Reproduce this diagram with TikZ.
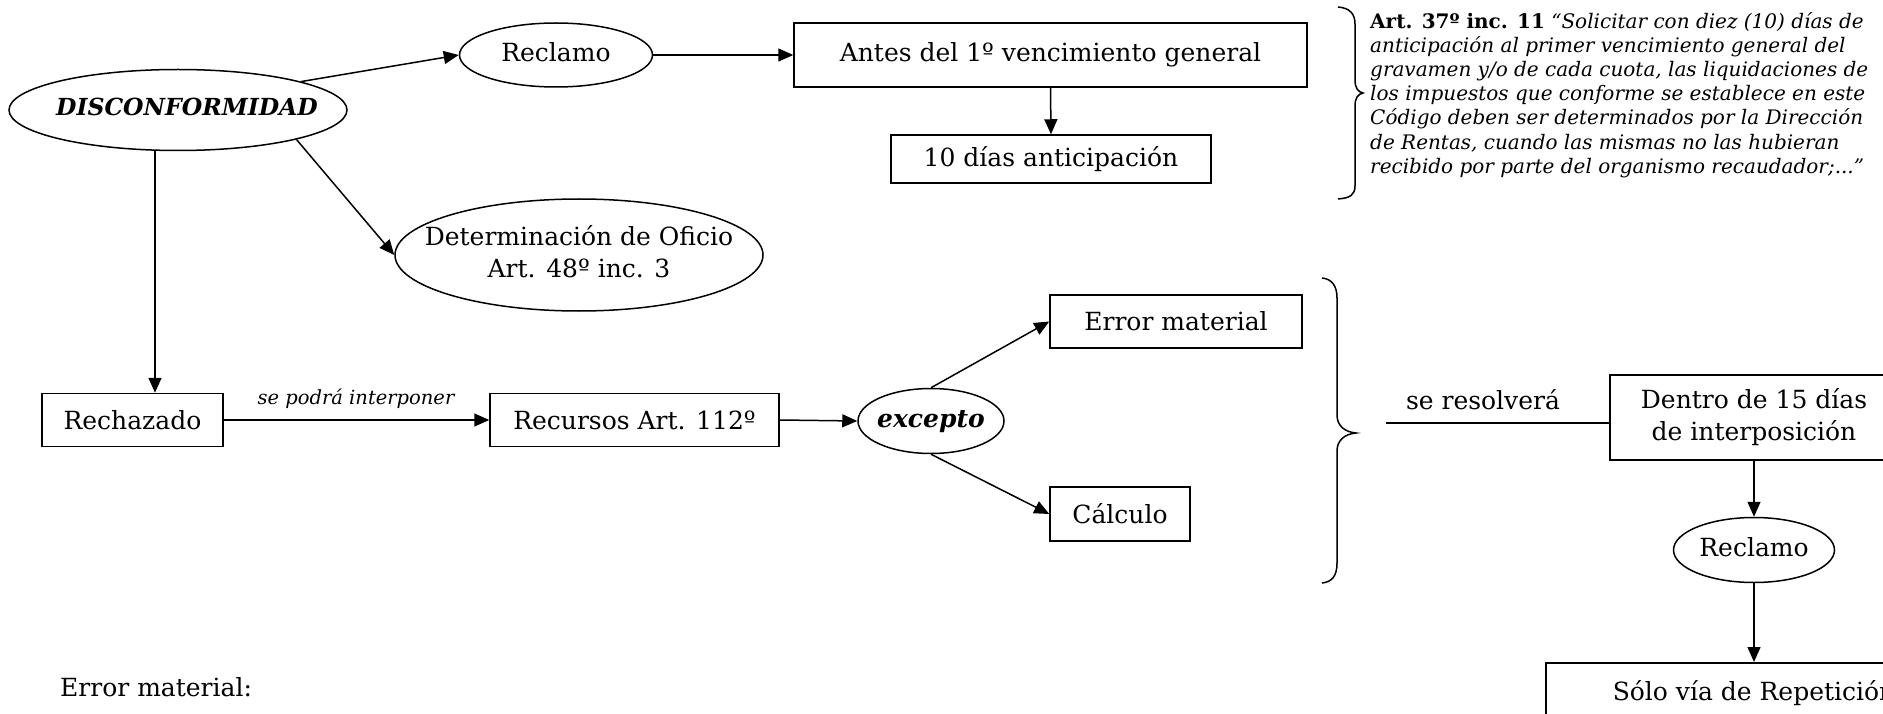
\documentclass[tikz,border=0pt]{standalone}
\usepackage{fontspec}
\setmainfont{DejaVu Serif}
\usetikzlibrary{arrows.meta,shapes.geometric}
\newcommand\mainsz{\fontsize{25}{32}\selectfont}
\newcommand\smallsz{\fontsize{20}{24.2}\selectfont}
\newcommand\labsz{\fontsize{19.5}{24}\selectfont}
\newcommand\ctext[1]{\makebox[0pt]{\begin{tabular}{@{}c@{}}#1\end{tabular}}}
\tikzset{
  box/.style={draw, line width=1.5pt, rectangle, inner sep=0pt, align=center, font=\mainsz},
  oval/.style={draw, line width=1.5pt, ellipse, inner sep=0pt, font=\mainsz},
  arr/.style={line width=1.5pt, -{Triangle[length=15pt,width=13pt]}},
  ln/.style={line width=1.5pt},
  lbl/.style={inner sep=0pt},
}
\begin{document}
\begin{tikzpicture}[x=1pt,y=-1pt]
\useasboundingbox (0,0) rectangle (1883,714);
\clip (0,0) rectangle (1883,714);
% nodes
\node[oval, minimum width=338pt, minimum height=81pt, font=\fontsize{23.5}{30}\selectfont\bfseries\itshape] (disc) at (178,110) {\ctext{\hspace{18pt}DISCONFORMIDAD}};
\node[oval, minimum width=193pt, minimum height=64pt] (recA) at (556,55) {\ctext{Reclamo\hspace{12pt}}};
\node[box, minimum width=513pt, minimum height=64pt] (antes) at (1050.5,55) {Antes del 1º vencimiento general};
\node[box, minimum width=320pt, minimum height=48pt] (diez) at (1051,159) {10 días anticipación};
\node[oval, minimum width=368pt, minimum height=112pt] (det) at (579,255) {\ctext{Determinación de Oficio\\Art. 48º inc. 3}};
\node[box, minimum width=181pt, minimum height=53pt] (rech) at (132.5,420) {Rechazado};
\node[box, minimum width=289pt, minimum height=53pt] (recu) at (634.5,420) {Recursos Art. 112º};
\node[oval, minimum width=146pt, minimum height=65pt, font=\mainsz\bfseries\itshape] (exc) at (931,421) {\ctext{excepto}};
\node[box, minimum width=252pt, minimum height=53pt] (errm) at (1176,321.5) {Error material};
\node[box, minimum width=140pt, minimum height=54pt] (calc) at (1120,514) {Cálculo};
\node[box, minimum width=288pt, minimum height=85pt] (dentro) at (1754,417.5) {Dentro de 15 días\\de interposición};
\node[oval, minimum width=161pt, minimum height=65pt] (recB) at (1754,550) {\ctext{Reclamo}};
\node[box, minimum width=416pt, minimum height=60pt, anchor=north] (solo) at (1754,662) {Sólo vía de Repetición};
% free texts
\node[lbl, font=\labsz\itshape] (lab1) at (356,399) {se podrá interponer};
\node[lbl, font=\mainsz] (lab2) at (1483,400) {se resolverá};
\node[lbl, font=\mainsz, anchor=base west] (errtxt) at (60,696) {Error material:};
\node[lbl, font=\smallsz\itshape, anchor=north west, align=left] (art) at (1370,12)
  {{\upshape\bfseries Art. 37º inc. 11} “Solicitar con diez (10) días de\\
   anticipación al primer vencimiento general del\\
   gravamen y/o de cada cuota, las liquidaciones de\\
   los impuestos que conforme se establece en este\\
   Código deben ser determinados por la Dirección\\
   de Rentas, cuando las mismas no las hubieran\\
   recibido por parte del organismo recaudador;...”};
% connectors
\coordinate (vx) at (155,0);
\draw[arr] (disc.13) -- (recA.west);
\draw[arr] (disc.-14) -- (det.west);
\draw[arr] (disc.south -| vx) -- (rech.north -| vx);
\draw[arr] (recA.east) -- (antes.west);
\draw[arr] (antes.south) -- (diez.north);
\draw[arr] (rech.east) -- (recu.west);
\draw[arr] (recu.east) -- (exc.west);
\draw[arr] (exc.north) -- (errm.west);
\draw[arr] (exc.south) -- (calc.west);
\coordinate (rs) at (1386,423);
\draw[ln] (rs) -- (rs -| dentro.west);
\draw[arr] (dentro.south) -- (recB.north);
\draw[arr] (recB.south) -- (solo.north);
% braces
\draw[ln] (1338,7) .. controls (1350,8) and (1355,14) .. (1355,24) -- (1355,80)
  .. controls (1355,88) and (1358,92) .. (1363,93)
  .. controls (1358,94) and (1355,98) .. (1355,106) -- (1355,186)
  .. controls (1355,195) and (1350,198) .. (1338,199);
\draw[ln] (1322,278) .. controls (1332,279) and (1337,286) .. (1337,298) -- (1337,415)
  .. controls (1337,426) and (1345,432) .. (1356,433)
  .. controls (1345,434) and (1337,440) .. (1337,451) -- (1337,563)
  .. controls (1337,576) and (1332,582) .. (1322,583);
\end{tikzpicture}
\end{document}
